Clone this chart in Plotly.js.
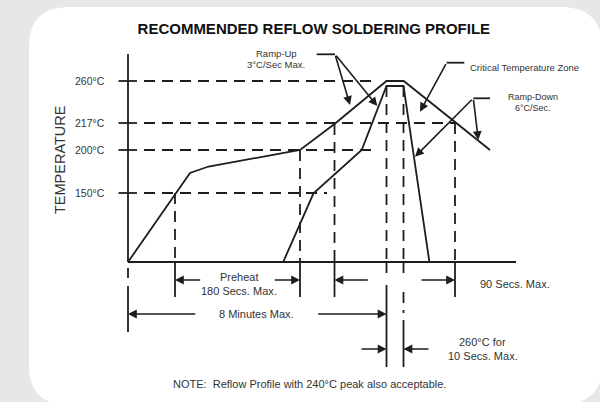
<!DOCTYPE html>
<html>
<head>
<meta charset="utf-8">
<script src="https://cdn.plot.ly/plotly-3.0.1.min.js"></script>
<style>html,body{margin:0;padding:0;background:#e7e7e7;}#chart{width:600px;height:402px;}</style>
</head>
<body>
<div id="chart"></div>
<script>
// ---- schematic data (time units along x, schematic height along y) ----
const tempLabels = ['260°C', '217°C', '200°C', '150°C'];
const tempLevels = [181, 139, 112, 69];
const refLineEnds = [244, 327, 244, 199];

// upper (maximum) profile
const upperX = [0, 62, 80.6, 172, 206.5, 258.5, 275.7, 362];
const upperY = [0, 89, 95.5, 112, 138, 181, 181, 112];
// lower (critical zone) profile
const lowerX = [155.2, 185.5, 233.7, 258.5, 275.5, 301.4];
const lowerY = [0, 68.7, 112, 176, 176, 0];

// time markers
const markerTimes = [47, 172, 206.5, 258.5, 275.5, 327];
const markerTops  = [69, 112, 138, 176, 176, 139];

const timeAxisEnd = 388;
const tempAxisTop = 208;

const LINE = '#1d1d1d';
const TXT = '#333333';
const FONT = 'Liberation Sans, Arial, Helvetica, sans-serif';

const traces = [];

// dashed horizontal reference lines
let dhx = [], dhy = [];
tempLevels.forEach((lv, i) => { dhx.push(16, refLineEnds[i], null); dhy.push(lv, lv, null); });
// dashed vertical markers above baseline
let dvx = [], dvy = [];
markerTimes.forEach((t, i) => { dvx.push(t, t, null); dvy.push(markerTops[i], 0, null); });
// dashed pieces below baseline
dvx.push(258.5, 258.5, null, 275.5, 275.5, null, 275.5, 275.5, null, 0, 0, null);
dvy.push(0, -16, null, 0, -14, null, -30, -51, null, -6, -16, null);
traces.push({x: dhx.concat(dvx), y: dhy.concat(dvy), mode: 'lines', hoverinfo: 'skip',
  line: {color: LINE, width: 1.8, dash: '11px,7px'}});

// solid axes, ticks, extension lines, leader lines
let sx = [0, 0, null, 0, timeAxisEnd, null], sy = [tempAxisTop, 0, null, 0, 0, null];
tempLevels.forEach(lv => { sx.push(-9.5, 9, null); sy.push(lv, lv, null); });
[47, 172, 206.5, 327].forEach(t => { sx.push(t, t, null); sy.push(0, -35, null); });
sx.push(258.5, 258.5, null, 275.5, 275.5, null, 0, 0, null);
sy.push(-23, -105, null, -58, -105, null, -24, -70, null);
// leader horizontals
sx.push(188.7, 207, null, 318.7, 336.3, null, 345.3, 362, null);
sy.push(207.7, 207.7, null, 199.3, 199.3, null, 163.7, 163.7, null);
traces.push({x: sx, y: sy, mode: 'lines', hoverinfo: 'skip', line: {color: LINE, width: 1.8}});

// profiles
traces.push({x: upperX, y: upperY, mode: 'lines', hoverinfo: 'skip', line: {color: LINE, width: 1.8}});
traces.push({x: lowerX, y: lowerY, mode: 'lines', hoverinfo: 'skip', line: {color: LINE, width: 1.8}});

// arrows: [tailX, tailY, headX, headY]
const arrows = [
  [207, 207.7, 222, 157], [207, 207.7, 249.3, 156],
  [318.7, 199.3, 292, 150.3],
  [345.3, 163.7, 287, 105.3], [345.3, 163.7, 350.3, 122],
  [73.7, -18, 47, -18], [145.3, -18, 172, -18],
  [241.3, -18, 206.5, -18], [292, -18, 327, -18],
  [68.7, -52, 0, -52], [188.7, -52, 258.5, -52],
  [232, -87, 258.5, -87], [302, -87, 275.5, -87]
];

const annotations = arrows.map(a => ({
  x: a[2], y: a[3], ax: a[0], ay: a[1], xref: 'x', yref: 'y', axref: 'x', ayref: 'y',
  text: '', showarrow: true, arrowhead: 2, arrowsize: 1.1, arrowwidth: 1.6, arrowcolor: LINE,
  standoff: 0, startstandoff: 0
}));

function txt(x, y, text, size, opts) {
  return Object.assign({x: x, y: y, xref: 'x', yref: 'y', text: text, showarrow: false,
    xanchor: 'center', yanchor: 'middle', font: {family: FONT, size: size, color: TXT}}, opts || {});
}

tempLabels.forEach((lb, i) => annotations.push(txt(-20.7, tempLevels[i], lb, 10.5, {xanchor: 'right'})));
annotations.push(txt(-68, 102, 'TEMPERATURE', 14.5, {textangle: -90}));
annotations.push(txt(148.7, 208.7, 'Ramp-Up', 9.5));
annotations.push(txt(148, 197.7, '3°C/Sec Max.', 9.5));
annotations.push(txt(340.3, 194.3, 'Critical Temperature Zone', 9.5, {xanchor: 'left'}));
annotations.push(txt(405.3, 165.3, 'Ramp-Down', 9));
annotations.push(txt(405.3, 153.7, '6°C/Sec.', 9));
annotations.push(txt(111.3, -15.3, 'Preheat', 11));
annotations.push(txt(111, -28.7, '180 Secs. Max.', 11));
annotations.push(txt(386.7, -22.3, '90 Secs. Max.', 11));
annotations.push(txt(128, -52, '8 Minutes Max.', 11));
annotations.push(txt(354.7, -80.3, '260°C for', 11));
annotations.push(txt(354.7, -94, '10 Secs. Max.', 11));
annotations.push(txt(181.7, -122.3, 'NOTE:\u00a0\u00a0Reflow Profile with 240°C peak also acceptable.', 11));

const layout = {
  width: 600, height: 402,
  margin: {l: 0, r: 0, t: 0, b: 0, pad: 0},
  paper_bgcolor: '#e7e7e7', plot_bgcolor: 'rgba(0,0,0,0)',
  showlegend: false,
  title: {text: 'RECOMMENDED REFLOW SOLDERING PROFILE', x: 313.8 / 600, y: 1 - 28.3 / 402,
    xanchor: 'center', yanchor: 'middle', font: {family: FONT, size: 15, color: '#111', weight: 'bold'}},
  xaxis: {range: [-128, 472], visible: false, fixedrange: true},
  yaxis: {range: [-140, 262], visible: false, fixedrange: true},
  shapes: [{
    type: 'path', xref: 'x', yref: 'y', layer: 'below',
    path: 'M -59,255 L 432,255 Q 475,255 475,212 L 475,-100 Q 475,-143 432,-143 L -59,-143 Q -99,-143 -99,-103 L -99,215 Q -99,255 -59,255 Z',
    fillcolor: '#ffffff', line: {width: 0}
  }],
  annotations: annotations
};

Plotly.newPlot('chart', traces, layout, {displayModeBar: false, staticPlot: true});
</script>
</body>
</html>
